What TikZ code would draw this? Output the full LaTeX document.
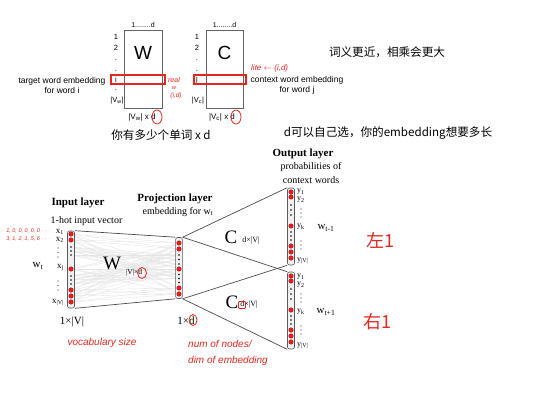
\documentclass[tikz,border=0pt]{standalone}
\usepackage{fontspec}
\setmainfont{Liberation Serif}
\setsansfont{Liberation Sans}
\newfontfamily\cjk{Noto Sans CJK SC}
\usetikzlibrary{shapes.geometric,backgrounds}

\definecolor{inkred}{RGB}{226,40,30}
\definecolor{dotred}{RGB}{236,28,24}
\newcommand{\fsz}[2]{\fontsize{#1}{#2}\selectfont}

\begin{document}
\begin{tikzpicture}[x=1pt, y=-1pt,
    txt/.style={inner sep=0pt, align=center},
    sans/.style={txt, font=\sffamily\fsz{8.5}{10}},
    serif/.style={txt, font=\fsz{10}{14}},
    head/.style={txt, font=\bfseries\fsz{11}{13}},
    cn/.style={txt, font=\cjk\fsz{11.6}{14}},
    note/.style={txt, text=inkred, font=\sffamily\itshape\fsz{10}{16}},
    matbox/.style={rectangle, draw=gray!80!black, line width=0.6pt, minimum width=38, minimum height=78},
    hlrow/.style={rectangle, draw=inkred, line width=1.1pt, minimum height=9},
    ring/.style={ellipse, draw=inkred, line width=0.8pt, inner sep=0pt},
    column/.style={rectangle, rounded corners=2pt, draw=gray!70!black, fill=gray!12, line width=0.6pt, minimum width=7},
    rdot/.style={circle, fill=dotred, draw=red!60!black, line width=0.2pt, inner sep=0pt, minimum size=4.6},
    kdot/.style={circle, fill=black, inner sep=0pt, minimum size=1.6},
    tdot/.style={circle, fill=black!80, inner sep=0pt, minimum size=1.2},
    mesh/.style={gray!20, line width=0.4pt},
    link/.style={gray!60!black, line width=0.7pt}
]
\useasboundingbox (0,0) rectangle (554,413);

% --- embedding matrices W and C
\node[matbox] (wmat) at (143,69) {};
\node[matbox, minimum width=37] (cmat) at (224.5,69) {};
\node[txt, font=\sffamily\fsz{19}{19}] (wlet) at (143,53) {W};
\node[txt, font=\sffamily\fsz{19}{19}] (clet) at (224.5,53) {C};
\node[sans, font=\sffamily\fsz{7}{8}] (wcols) at (143,25) {1........d};
\node[sans, font=\sffamily\fsz{7}{8}] (ccols) at (224.5,25) {1........d};

\foreach \y/\t [count=\i] in {37/1, 48/2, 60/., 71/., 80/i, 90/.}
    \node[sans, font=\sffamily\fsz{7.5}{8}] (wr\i) at (116,\y) {\t};
\node[sans, font=\sffamily\fsz{7.5}{8}] (wrv) at (117,101) {|V\textsubscript{w}|};
\foreach \y/\t [count=\i] in {37/1, 48/2, 60/., 71/., 80/j}
    \node[sans, font=\sffamily\fsz{7.5}{8}] (cr\i) at (197,\y) {\t};
\node[sans, font=\sffamily\fsz{7.5}{8}] (crv) at (198,101) {|V\textsubscript{c}|};

\node[hlrow, minimum width=54] (rowi) at (138,79.5) {};
\node[hlrow, minimum width=52] (rowj) at (220,79.5) {};

\node[sans, font=\sffamily\fsz{8}{9}] (wsize) at (142,117) {|V\textsubscript{w}| x d};
\node[sans, font=\sffamily\fsz{8}{9}] (csize) at (222,117) {|V\textsubscript{c}| x d};
\node[ring, minimum width=10, minimum height=14] (wd) at (157,117) {};
\node[ring, minimum width=10, minimum height=14] (cd) at (236,117) {};

\node[sans] (tgt) at (62,85) {target word embedding\\for word i};
\node[sans] (ctx) at (297,85) {context word embedding\\for word j};

% handwritten notes, top
\node[note, font=\sffamily\itshape\fsz{7}{8}] (real) at (174,80) {real};
\node[note, font=\sffamily\itshape\fsz{5.5}{6}] (realw) at (174,88) {w};
\node[note, font=\sffamily\itshape\fsz{6.5}{7}] (realid) at (176,96) {(i,d)};
\node[note, font=\sffamily\itshape\fsz{8}{9}, anchor=west] (lite) at (251,68) {lite $\leftarrow$ (i,d)};

\node[cn] (cnsize) at (161,135) {你有多少个单词 x d};
\node[cn] (cnnear) at (387,52) {词义更近，相乘会更大};
\node[cn] (cnlen) at (388,133) {d可以自己选，你的embedding想要多长};

% --- skip-gram network
\node[head] (inhead) at (78,203) {Input layer};
\node[serif] (insub) at (86.5,221) {1-hot input vector};
\node[head] (prhead) at (175,199) {Projection layer};
\node[serif] (prsub) at (178,212) {embedding for w\textsubscript{t}};
\node[head] (outhead) at (303,154) {Output layer};
\node[serif] (outsub) at (311,173) {probabilities of\\context words};

\node[column, minimum height=77] (inp) at (71,269.5) {};
\node[column, minimum height=61, minimum width=6.5] (proj) at (179,268) {};
\node[column, minimum height=77] (outa) at (291,226.5) {};
\node[column, minimum height=77] (outb) at (291,310.5) {};

\foreach \y [count=\i] in {234,240,269,290,296,302}
    \node[rdot] (in\i) at (71,\y) {};
\foreach \y [count=\i] in {247,251,255,276,280,284}
    \node[kdot] (ink\i) at (71,\y) {};
\foreach \y [count=\i] in {243,249,269,288,294}
    \node[rdot] (pr\i) at (179,\y) {};
\foreach \y [count=\i] in {255,259.5,264,274.5,278.5,282.5}
    \node[kdot] (prk\i) at (179,\y) {};
\foreach \y [count=\i] in {192,197,226,246,252,258} {
    \node[rdot] (oa\i) at (291,\y) {};
    \node[rdot] (ob\i) at (291,\y+84) {};
}
\foreach \y [count=\i] in {205,210,215,232,236,240} {
    \node[kdot] (oak\i) at (291,\y) {};
    \node[kdot] (obk\i) at (291,\y+84) {};
}

% fully connected W
\begin{scope}[on background layer]
\foreach \a in {1,...,6}
    \foreach \b in {1,...,5}
        \draw[mesh] (in\a) -- (pr\b);
\foreach \a in {1,...,6}
    \foreach \b in {1,...,5}
        \draw[mesh] (ink\a) -- (prk\b);
\end{scope}
\draw[link] (inp.north east) -- (proj.north west);
\draw[link] (inp.south east) -- (proj.south west);

\draw[link] (proj.north east) -- (outa.north west);
\draw[link] (proj.north east) -- (outb.north west);
\draw[link] (proj.south east) -- (outa.south west);
\draw[link] (proj.south east) -- (outb.south west);

% unit labels
\foreach \y/\t [count=\i] in {232/x\textsubscript{1}, 240/x\textsubscript{2}, 268/x\textsubscript{j}, 303/x\textsubscript{|V|}}
    \node[serif, font=\fsz{9}{10}, anchor=east] (xl\i) at (64,\y) {\t};
\foreach \y [count=\i] in {248,252.5,257,281,285.5,290}
    \node[tdot, minimum size=1.4] (xv\i) at (58,\y) {};
\node[serif, font=\fsz{11}{12}] (wt) at (38,266) {w\textsubscript{t}};

\foreach \y/\t [count=\i] in {192/y\textsubscript{1}, 200/y\textsubscript{2}, 227/y\textsubscript{k}, 261/y\textsubscript{|V|}} {
    \node[serif, font=\fsz{8}{9}, anchor=west] (yal\i) at (297,\y) {\t};
    \node[serif, font=\fsz{8}{9}, anchor=west] (ybl\i) at (297,\y+85) {\t};
}
\foreach \y [count=\i] in {209,213,217,241,245,249} {
    \node[tdot] (yav\i) at (301,\y) {};
    \node[tdot] (ybv\i) at (301,\y+85) {};
}
\node[serif, font=\fsz{11}{12}] (wprev) at (326,228) {w\textsubscript{t-1}};
\node[serif, font=\fsz{11}{12}] (wnext) at (326,312) {w\textsubscript{t+1}};

% matrix names
\node[txt, font=\fsz{19}{19}] (wbig) at (112,263) {W};
\node[serif, font=\fsz{7.5}{8}] (wdim) at (134,273) {|V|×d};
\node[ring, minimum width=9, minimum height=11] (wdimd) at (142,273) {};
\node[txt, font=\fsz{19}{19}] (cbiga) at (231,237) {C};
\node[serif, font=\fsz{8}{9}] (cdima) at (251,241) {d×|V|};
\node[txt, font=\fsz{19}{19}] (cbigb) at (232,302) {C};
\node[serif, font=\fsz{8}{9}] (cdimb) at (249,305) {d×|V|};
\node[rectangle, rounded corners=1pt, draw=inkred, line width=0.8pt, minimum size=7, inner sep=0pt] (cdimd) at (242,305) {};

\node[serif, font=\fsz{11}{12}] (insize) at (72,322) {1×|V|};
\node[serif, font=\fsz{11}{12}] (prsize) at (186,321) {1×d};
\node[ring, minimum width=8, minimum height=11] (prsized) at (193,320) {};

% handwritten notes, bottom
\node[note, font=\sffamily\itshape\fsz{5.5}{6}, anchor=east] (onehot1) at (51,231) {1, 0, 0, 0, 0, 0 $\cdots$};
\node[note, font=\sffamily\itshape\fsz{5.5}{6}, anchor=east] (onehot2) at (51,239) {3, 1, 2, 1, 5, 6 $\cdots$};
\node[note] (vocab) at (102,343) {vocabulary size};
\node[note, align=left, anchor=west] (numnodes) at (188,353) {num of nodes/\\dim of embedding};
\node[txt, text=inkred, font=\cjk\fsz{18}{18}] (left1) at (380,240) {左1};
\node[txt, text=inkred, font=\cjk\fsz{18}{18}] (right1) at (377,322) {右1};
\end{tikzpicture}
\end{document}
